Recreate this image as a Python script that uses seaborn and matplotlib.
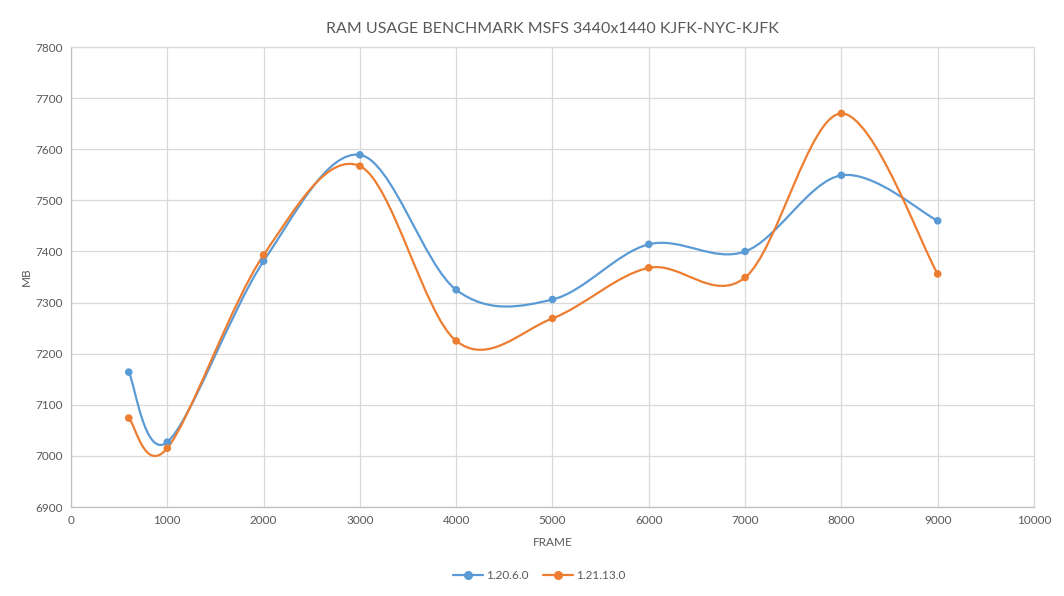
"""
RAM usage benchmark chart (MSFS 3440x1440, KJFK-NYC-KJFK)
"""

import matplotlib
matplotlib.use("Agg")
import matplotlib.pyplot as plt
from matplotlib.path import Path
from matplotlib.patches import PathPatch
from matplotlib.lines import Line2D
import seaborn as sns
import numpy as np
import pandas as pd

# Data
frames = [600, 1000, 2000, 3000, 4000, 5000, 6000, 7000, 8000, 9000]
ram_1_20_6_0 = [7164, 7027, 7381, 7589, 7325, 7306, 7414, 7400, 7549, 7460]
ram_1_21_13_0 = [7074, 7015, 7393, 7567, 7225, 7269, 7368, 7349, 7670, 7356]
versions = ["1.20.6.0", "1.21.13.0"]
colors = ["#5b9bd5", "#ed7d31"]

x_ticks = list(range(0, 10001, 1000))
y_ticks = list(range(6900, 7801, 100))


def smooth_path(xs, ys):
    """Catmull-Rom style Bezier path through the points (like Excel's smoothed line)."""
    pts = np.column_stack([xs, ys]).astype(float)
    n = len(pts)
    verts = [pts[0]]
    codes = [Path.MOVETO]
    for i in range(n - 1):
        p_prev = pts[max(i - 1, 0)]
        p0 = pts[i]
        p1 = pts[i + 1]
        p_next = pts[min(i + 2, n - 1)]
        c1 = p0 + (p1 - p_prev) / 6.0
        c2 = p1 - (p_next - p0) / 6.0
        verts += [c1, c2, p1]
        codes += [Path.CURVE4] * 3
    return Path(verts, codes)


df = pd.DataFrame({
    "FRAME": frames * 2,
    "MB": ram_1_20_6_0 + ram_1_21_13_0,
    "version": [versions[0]] * len(frames) + [versions[1]] * len(frames),
})

sns.set_theme(style="whitegrid")
plt.rcParams["font.family"] = ["Lato", "DejaVu Sans"]

fig = plt.figure(figsize=(10.64, 5.96), dpi=100)
ax = fig.add_axes([0.0667, 0.1493, 0.9051, 0.7718])

# smoothed lines
for series, color in zip([ram_1_20_6_0, ram_1_21_13_0], colors):
    patch = PathPatch(smooth_path(frames, series), facecolor="none",
                      edgecolor=color, lw=1.6, zorder=2, capstyle="round")
    ax.add_patch(patch)

sns.scatterplot(data=df, x="FRAME", y="MB", hue="version", palette=colors,
                s=30, edgecolor="none", legend=False, zorder=3, ax=ax)

ax.set_xlim(0, 10000)
ax.set_ylim(6900, 7800)
ax.set_xticks(x_ticks)
ax.set_yticks(y_ticks)
ax.grid(True, color="#d9d9d9", lw=0.9)
for side, spine in ax.spines.items():
    spine.set_color("#d9d9d9")
    spine.set_linewidth(0.9)
ax.spines["left"].set_color("#bfbfbf")
ax.spines["bottom"].set_color("#bfbfbf")
ax.tick_params(axis="both", length=0, labelsize=8.5, labelcolor="#595959", pad=6)

ax.set_xlabel("FRAME", fontsize=8.5, color="#595959", labelpad=8)
ax.set_ylabel("MB", fontsize=8.5, color="#595959", labelpad=2)
ax.set_title("RAM USAGE BENCHMARK MSFS 3440x1440 KJFK-NYC-KJFK",
             fontsize=11.5, color="#595959", pad=10)

handles = [Line2D([0], [0], color=c, lw=1.6, marker="o", markersize=5.5)
           for c in colors]
fig.legend(handles, versions, loc="center", bbox_to_anchor=(0.507, 0.034),
           ncol=2, frameon=False, fontsize=8.5, labelcolor="#595959",
           handlelength=2.5, columnspacing=1.2, handletextpad=0.3)

fig.savefig("out.png", dpi=100)
